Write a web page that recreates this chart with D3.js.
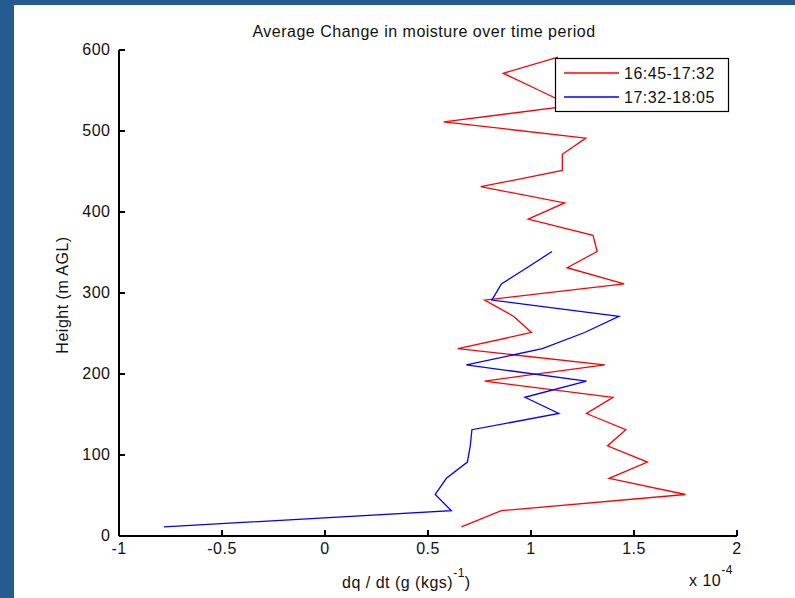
<!DOCTYPE html>
<html>
<head>
<meta charset="utf-8">
<script src="https://cdn.jsdelivr.net/npm/d3@7"></script>
<style>
  html, body { margin: 0; padding: 0; background: #fff; }
  svg { display: block; }
  text { font-family: "Liberation Sans", Arial, Helvetica, sans-serif; fill: #111; letter-spacing: 0.5px; }
</style>
</head>
<body>
<svg id="chart" width="795" height="598"></svg>
<script>
// Heights (m AGL) at which the moisture tendency was averaged
const heightsRed = [10, 30, 50, 70, 90, 110, 130, 150, 170, 190, 210, 230, 250, 270, 290,
                    310, 330, 350, 370, 390, 410, 430, 450, 470, 490, 510, 530, 550, 570, 590];
// dq/dt (x 1e-4 g (kg s)^-1), 16:45-17:32
const valuesRed = [0.667, 0.861, 1.755, 1.384, 1.57, 1.376, 1.465, 1.274, 1.403, 0.78, 1.363, 0.65, 1.007, 0.92, 0.78,
                   1.457, 1.18, 1.326, 1.306, 0.991, 1.168, 0.761, 1.157, 1.157, 1.271, 0.581, 1.20, 1.036, 0.87, 1.136];

const heightsBlue = [10, 30, 50, 70, 90, 110, 130, 150, 170, 190, 210, 230, 250, 270, 290, 310, 330, 350];
// dq/dt (x 1e-4 g (kg s)^-1), 17:32-18:05
const valuesBlue = [-0.777, 0.618, 0.54, 0.594, 0.696, 0.71, 0.718, 1.14, 0.975, 1.274, 0.691, 1.06, 1.265, 1.432, 0.815, 0.861, 0.985, 1.107];

const seriesNames = ["16:45-17:32", "17:32-18:05"];
const seriesColors = ["#ff0000", "#0000ff"];

const xTicks = [-1, -0.5, 0, 0.5, 1, 1.5, 2];
const xTickLabels = ["-1", "-0.5", "0", "0.5", "1", "1.5", "2"];
const yTicks = [0, 100, 200, 300, 400, 500, 600];
const yTickLabels = ["0", "100", "200", "300", "400", "500", "600"];

const titleText = "Average Change in moisture over time period";
const yLabelText = "Height (m AGL)";

const svg = d3.select("#chart");

// window frame strips
svg.append("rect").attr("x", 0).attr("y", 0).attr("width", 14).attr("height", 598).attr("fill", "#265b8f");
svg.append("rect").attr("x", 0).attr("y", 0).attr("width", 795).attr("height", 5).attr("fill", "#265b8f");

const x = d3.scaleLinear().domain([-1, 2]).range([118, 736]);
const y = d3.scaleLinear().domain([0, 600]).range([535, 49]);

// axes with inward ticks, no box
const xAxis = d3.axisBottom(x)
  .tickValues(xTicks)
  .tickFormat((d, i) => xTickLabels[i])
  .tickSizeInner(-6).tickSizeOuter(0).tickPadding(7.5);
const yAxis = d3.axisLeft(y)
  .tickValues(yTicks)
  .tickFormat((d, i) => yTickLabels[i])
  .tickSizeInner(-6).tickSizeOuter(0).tickPadding(8);

const gx = svg.append("g").attr("transform", "translate(0.5,535.5)").call(xAxis);
const gy = svg.append("g").attr("transform", "translate(118.5,0.5)").call(yAxis);
[gx, gy].forEach(g => {
  g.selectAll("path, line").attr("stroke", "#000").attr("stroke-width", 1.2).attr("shape-rendering", "crispEdges");
  g.selectAll("text").attr("font-size", 16).attr("fill", "#111")
    .style("font-family", '"Liberation Sans", Arial, sans-serif');
});

// series lines
const line = d3.line().x(d => x(d[1])).y(d => y(d[0]));
const redPts = heightsRed.map((h, i) => [h, valuesRed[i]]);
const bluePts = heightsBlue.map((h, i) => [h, valuesBlue[i]]);

svg.append("path").datum(redPts).attr("d", line)
  .attr("fill", "none").attr("stroke", seriesColors[0]).attr("stroke-width", 1.3);
svg.append("path").datum(bluePts).attr("d", line)
  .attr("fill", "none").attr("stroke", seriesColors[1]).attr("stroke-width", 1.3);

// title
svg.append("text").attr("x", 424).attr("y", 36.5).attr("text-anchor", "middle")
  .attr("font-size", 16).text(titleText);

// y label
svg.append("text").attr("transform", "translate(68,295) rotate(-90)")
  .attr("text-anchor", "middle").attr("font-size", 16).text(yLabelText);

// x label with superscript exponent
const xl = svg.append("text").attr("x", 342).attr("y", 588).attr("font-size", 16);
xl.append("tspan").text("dq / dt (g (kgs)");
xl.append("tspan").attr("dy", -11).attr("font-size", 12).text("-1");
xl.append("tspan").attr("dy", 11).text(")");

// axis multiplier
const mult = svg.append("text").attr("x", 689).attr("y", 586).attr("font-size", 16);
mult.append("tspan").text("x 10");
mult.append("tspan").attr("dy", -12).attr("font-size", 12).text("-4");

// legend
const leg = svg.append("g");
leg.append("rect").attr("x", 555.5).attr("y", 58.5).attr("width", 173).attr("height", 53)
  .attr("fill", "#fff").attr("stroke", "#000").attr("stroke-width", 1.2);
seriesNames.forEach((name, i) => {
  const cy = 73 + i * 24;
  leg.append("line").attr("x1", 564).attr("x2", 619).attr("y1", cy).attr("y2", cy)
    .attr("stroke", seriesColors[i]).attr("stroke-width", 1.3);
  leg.append("text").attr("x", 624).attr("y", cy + 5.8).attr("font-size", 16).text(name);
});
</script>
</body>
</html>
